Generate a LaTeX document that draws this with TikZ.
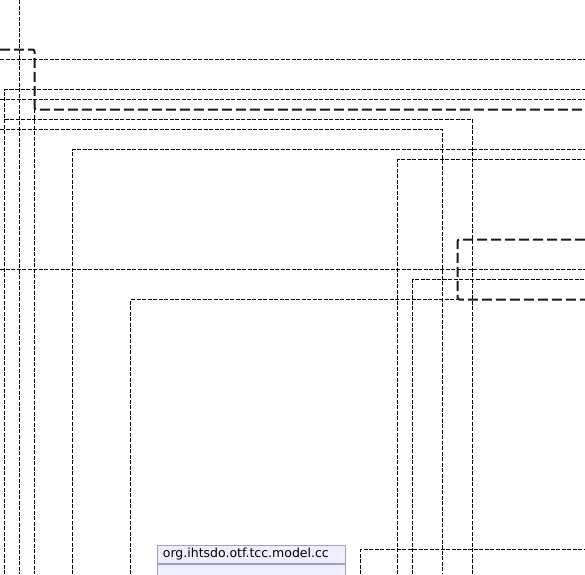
\documentclass[tikz,border=0pt]{standalone}
\usepackage{fontspec}
\setmainfont{DejaVu Sans}
\definecolor{umlfill}{HTML}{EEEEFF}
\definecolor{umlborder}{HTML}{A0A0BC}
\begin{document}
\begin{tikzpicture}[x=1pt,y=-1pt,
  pkgline/.style={line width=0.8pt, dash pattern=on 4pt off 1.5pt},
  pkgthick/.style={line width=2pt, dash pattern=on 10pt off 4pt, rounded corners=2pt, black!90},
  umlbox/.style={draw=umlborder, fill=umlfill, line width=0.8pt, anchor=north west, minimum width=188pt}]
\useasboundingbox (0,0) rectangle (585,574);
\clip (0,0) rectangle (585,574);
% full lines
\draw[pkgline] (19.5,0) -- (19.5,574);
\draw[pkgline] (0,59.5) -- (585,59.5);
\draw[pkgline] (0,99.5) -- (585,99.5);
\draw[pkgline] (0,269.5) -- (585,269.5);
% package frames
\draw[pkgline] (4.5,574) -- (4.5,89.5) -- (585,89.5);
\draw[pkgline] (34.5,109) -- (34.5,574);
\draw[pkgline] (4.5,119.5) -- (472.5,119.5) -- (472.5,574);
\draw[pkgline] (0,129.5) -- (442.5,129.5) -- (442.5,574);
\draw[pkgline] (72.5,574) -- (72.5,149.5) -- (585,149.5);
\draw[pkgline] (397.5,574) -- (397.5,159.5) -- (585,159.5);
\draw[pkgline] (412.5,574) -- (412.5,279.5) -- (585,279.5);
\draw[pkgline] (130.5,574) -- (130.5,299.5) -- (457,299.5);
\draw[pkgline] (360.5,574) -- (360.5,549.5) -- (585,549.5);
% thick frames
\draw[pkgthick] (0,49.5) -- (34.5,49.5) -- (34.5,109.5) -- (585,109.5);
\draw[pkgthick] (585,239.5) -- (457.5,239.5) -- (457.5,299.5) -- (585,299.5);
% class box
\node[umlbox, minimum height=17pt, inner xsep=6pt, text width=176pt, align=left,
      font=\fontsize{12.5pt}{14pt}\selectfont] (hdr) at (156.5,544.5) {org.ihtsdo.otf.tcc.model.cc};
\node[umlbox, minimum height=40pt] (body) at (hdr.south west) {};
\end{tikzpicture}
\end{document}
